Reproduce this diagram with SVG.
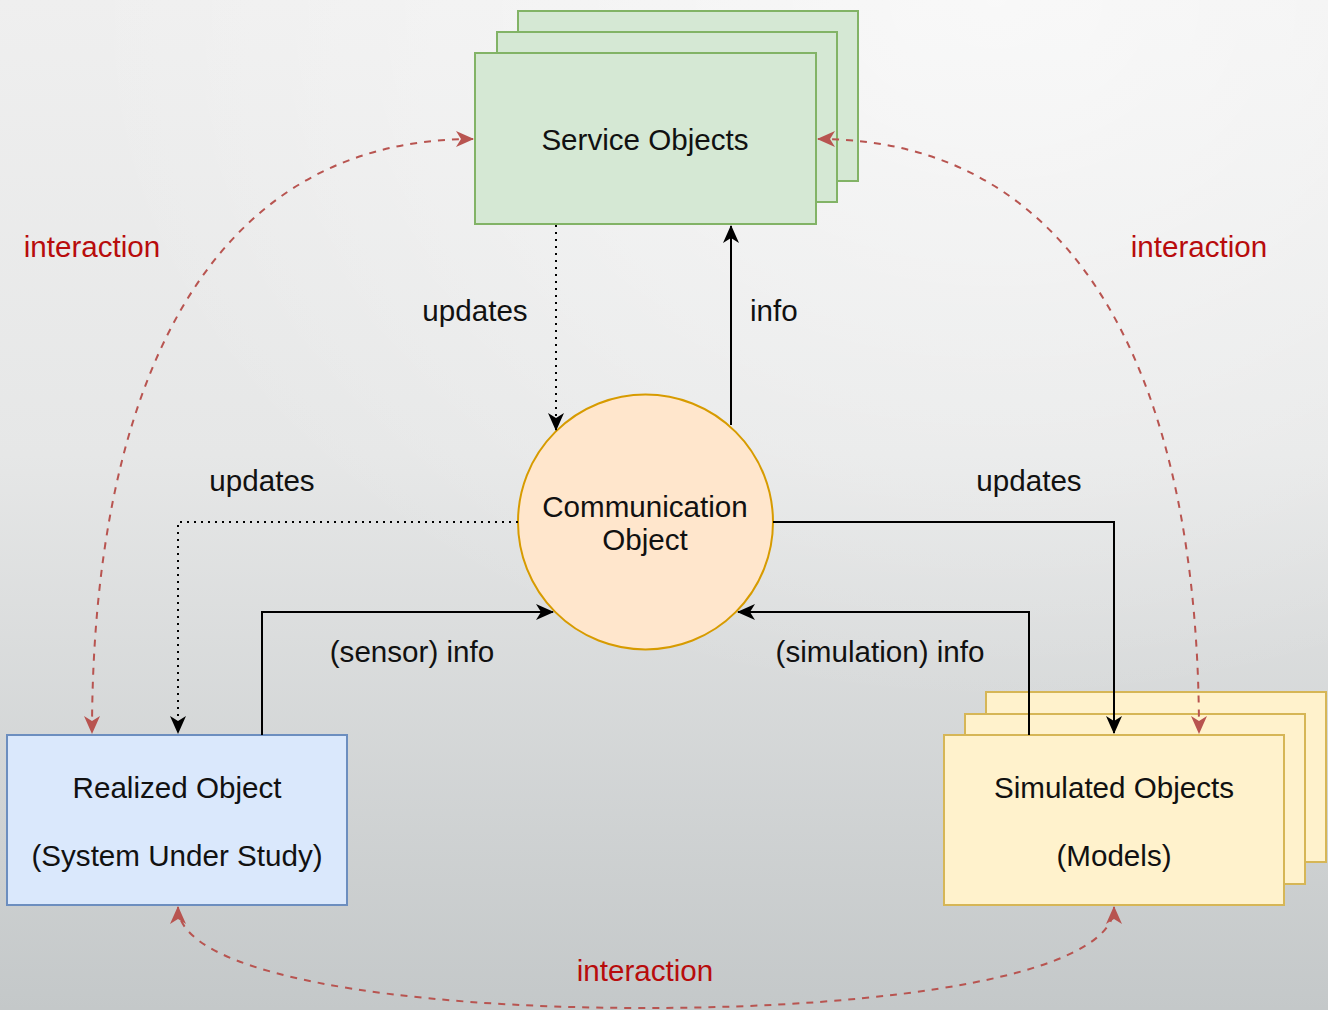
<svg xmlns="http://www.w3.org/2000/svg" width="1328" height="1010" viewBox="0 0 1328 1010">
  <defs>
    <linearGradient id="bg" x1="0" y1="0" x2="0" y2="1">
      <stop offset="0" stop-color="#efefef"/>
      <stop offset="0.45" stop-color="#e6e7e7"/>
      <stop offset="1" stop-color="#c4c8c9"/>
    </linearGradient>
    <radialGradient id="glow" cx="0.75" cy="0" r="0.7">
      <stop offset="0" stop-color="#ffffff" stop-opacity="0.6"/>
      <stop offset="1" stop-color="#ffffff" stop-opacity="0"/>
    </radialGradient>
    <marker id="arrowBlack" viewBox="0 0 18 16" refX="17" refY="8" markerWidth="18" markerHeight="16" markerUnits="userSpaceOnUse" orient="auto-start-reverse">
      <path d="M0,0 L18,8 L0,16 L5,8 Z" fill="#000"/>
    </marker>
    <marker id="arrowRed" viewBox="0 0 18 16" refX="17" refY="8" markerWidth="18" markerHeight="16" markerUnits="userSpaceOnUse" orient="auto-start-reverse">
      <path d="M0,0 L18,8 L0,16 L5,8 Z" fill="#b85450"/>
    </marker>
  </defs>
  <style>
    text { font-family: "Liberation Sans", Arial, Helvetica, sans-serif; font-size: 29.6px; fill: #111; }
    .mid { text-anchor: middle; }
    .red { fill: #b80c0c; }
    .green { fill: #d5e8d4; stroke: #82b366; stroke-width: 2; }
    .blue { fill: #dae8fc; stroke: #6c8ebf; stroke-width: 2; }
    .yellow { fill: #fff2cc; stroke: #d6b656; stroke-width: 2; }
    .orange { fill: #ffe6cc; stroke: #d79b00; stroke-width: 2; }
    .solid { fill: none; stroke: #000; stroke-width: 2; marker-end: url(#arrowBlack); }
    .dotted { fill: none; stroke: #000; stroke-width: 2; stroke-dasharray: 2 5; marker-end: url(#arrowBlack); }
    .interact { fill: none; stroke: #b85450; stroke-width: 2; stroke-dasharray: 7 7; marker-start: url(#arrowRed); marker-end: url(#arrowRed); }
  </style>

  <rect width="1328" height="1010" fill="url(#bg)"/>
  <rect width="1328" height="1010" fill="url(#glow)"/>

  <!-- nodes -->
  <g id="service-objects">
    <rect class="green" x="518" y="11" width="340" height="170"/>
    <rect class="green" x="497" y="32" width="340" height="170"/>
    <rect class="green" x="475" y="53" width="341" height="171"/>
    <text class="mid" x="645" y="150">Service Objects</text>
  </g>

  <g id="communication-object">
    <circle class="orange" cx="645.5" cy="522" r="127.5"/>
    <text class="mid" x="645" y="517">Communication</text>
    <text class="mid" x="645" y="550">Object</text>
  </g>

  <g id="realized-object">
    <rect class="blue" x="7" y="735" width="340" height="170"/>
    <text class="mid" x="177" y="798">Realized Object</text>
    <text class="mid" x="177" y="866">(System Under Study)</text>
  </g>

  <g id="simulated-objects">
    <rect class="yellow" x="986" y="692" width="340" height="170"/>
    <rect class="yellow" x="965" y="714" width="340" height="170"/>
    <rect class="yellow" x="944" y="735" width="340" height="170"/>
    <text class="mid" x="1114" y="798">Simulated Objects</text>
    <text class="mid" x="1114" y="866">(Models)</text>
  </g>

  <!-- connectors, drawn above the stacked node backs -->
  <g id="connectors">
    <path class="dotted" d="M556,225 L556,430"/>
    <path class="solid" d="M731,425 L731,226"/>
    <path class="dotted" d="M518,522 L178,522 L178,733"/>
    <path class="solid" d="M773,522 L1114,522 L1114,733"/>
    <path class="solid" d="M262,735 L262,612 L553,612"/>
    <path class="solid" d="M1029,735 L1029,612 L738,612"/>
    <path class="interact" d="M473,139 C200,139 92,400 92,733"/>
    <path class="interact" d="M818,139 C1091,139 1199,400 1199,733"/>
    <path class="interact" d="M178,907 C178,975 400,1008 645,1008 C890,1008 1114,975 1114,907"/>
  </g>

  <!-- edge labels -->
  <g id="labels">
    <text class="mid" x="475" y="321">updates</text>
    <text x="750" y="321">info</text>
    <text class="mid" x="262" y="491">updates</text>
    <text class="mid" x="1029" y="491">updates</text>
    <text class="mid" x="412" y="662">(sensor) info</text>
    <text class="mid" x="880" y="662">(simulation) info</text>
    <text class="mid red" x="92" y="257">interaction</text>
    <text class="mid red" x="1199" y="257">interaction</text>
    <text class="mid red" x="645" y="981">interaction</text>
  </g>
</svg>
